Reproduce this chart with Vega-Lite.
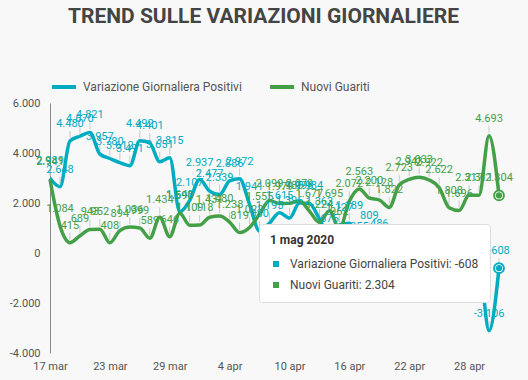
{
  "$schema": "https://vega.github.io/schema/vega-lite/v6.json",
  "width": 449,
  "height": 250,
  "autosize": {"type": "none"},
  "padding": {"left": 50, "top": 103, "right": 29, "bottom": 27},
  "background": "#f8f8f8",
  "title": {
    "text": "TREND SULLE VARIAZIONI GIORNALIERE",
    "anchor": "middle",
    "frame": "group",
    "dx": -11,
    "offset": 46,
    "font": "Roboto",
    "fontSize": 21,
    "fontWeight": "bold",
    "color": "#444444"
  },
  "config": {
    "font": "Roboto",
    "view": {"stroke": null},
    "locale": {
      "number": {"decimal": ",", "thousands": ".", "grouping": [3], "currency": ["€", ""], "minus": "-"},
      "time": {
        "dateTime": "%A %e %B %Y, %X",
        "date": "%d/%m/%Y",
        "time": "%H:%M:%S",
        "periods": ["AM", "PM"],
        "days": ["domenica", "lunedì", "martedì", "mercoledì", "giovedì", "venerdì", "sabato"],
        "shortDays": ["dom", "lun", "mar", "mer", "gio", "ven", "sab"],
        "months": ["gennaio", "febbraio", "marzo", "aprile", "maggio", "giugno", "luglio", "agosto", "settembre", "ottobre", "novembre", "dicembre"],
        "shortMonths": ["gen", "feb", "mar", "apr", "mag", "giu", "lug", "ago", "set", "ott", "nov", "dic"]
      }
    }
  },
  "data": {
    "values": [
      {"date": "2020-03-17", "Variazione Giornaliera Positivi": 2989, "Nuovi Guariti": 2941},
      {"date": "2020-03-18", "Variazione Giornaliera Positivi": 2648, "Nuovi Guariti": 1084},
      {"date": "2020-03-19", "Variazione Giornaliera Positivi": 4480, "Nuovi Guariti": 415},
      {"date": "2020-03-20", "Variazione Giornaliera Positivi": 4670, "Nuovi Guariti": 689},
      {"date": "2020-03-21", "Variazione Giornaliera Positivi": 4821, "Nuovi Guariti": 943},
      {"date": "2020-03-22", "Variazione Giornaliera Positivi": 3957, "Nuovi Guariti": 952},
      {"date": "2020-03-23", "Variazione Giornaliera Positivi": 3780, "Nuovi Guariti": 408},
      {"date": "2020-03-24", "Variazione Giornaliera Positivi": 3612, "Nuovi Guariti": 894},
      {"date": "2020-03-25", "Variazione Giornaliera Positivi": 3491, "Nuovi Guariti": 1036},
      {"date": "2020-03-26", "Variazione Giornaliera Positivi": 4492, "Nuovi Guariti": 999},
      {"date": "2020-03-27", "Variazione Giornaliera Positivi": 4401, "Nuovi Guariti": 589},
      {"date": "2020-03-28", "Variazione Giornaliera Positivi": 3651, "Nuovi Guariti": 1434},
      {"date": "2020-03-29", "Variazione Giornaliera Positivi": 3815, "Nuovi Guariti": 646},
      {"date": "2020-03-30", "Variazione Giornaliera Positivi": 1648, "Nuovi Guariti": 1590},
      {"date": "2020-03-31", "Variazione Giornaliera Positivi": 2107, "Nuovi Guariti": 1109},
      {"date": "2020-04-01", "Variazione Giornaliera Positivi": 2937, "Nuovi Guariti": 1118},
      {"date": "2020-04-02", "Variazione Giornaliera Positivi": 2477, "Nuovi Guariti": 1431},
      {"date": "2020-04-03", "Variazione Giornaliera Positivi": 2339, "Nuovi Guariti": 1480},
      {"date": "2020-04-04", "Variazione Giornaliera Positivi": 2886, "Nuovi Guariti": 1238},
      {"date": "2020-04-05", "Variazione Giornaliera Positivi": 2972, "Nuovi Guariti": 819},
      {"date": "2020-04-06", "Variazione Giornaliera Positivi": 1941, "Nuovi Guariti": 1022},
      {"date": "2020-04-07", "Variazione Giornaliera Positivi": 880, "Nuovi Guariti": 1555},
      {"date": "2020-04-08", "Variazione Giornaliera Positivi": 1195, "Nuovi Guariti": 2099},
      {"date": "2020-04-09", "Variazione Giornaliera Positivi": 1615, "Nuovi Guariti": 1979},
      {"date": "2020-04-10", "Variazione Giornaliera Positivi": 1396, "Nuovi Guariti": 1985},
      {"date": "2020-04-11", "Variazione Giornaliera Positivi": 1996, "Nuovi Guariti": 2079},
      {"date": "2020-04-12", "Variazione Giornaliera Positivi": 1984, "Nuovi Guariti": 1677},
      {"date": "2020-04-13", "Variazione Giornaliera Positivi": 1363, "Nuovi Guariti": 1224},
      {"date": "2020-04-14", "Variazione Giornaliera Positivi": 675, "Nuovi Guariti": 1695},
      {"date": "2020-04-15", "Variazione Giornaliera Positivi": 1127, "Nuovi Guariti": 962},
      {"date": "2020-04-16", "Variazione Giornaliera Positivi": 1189, "Nuovi Guariti": 2072},
      {"date": "2020-04-17", "Variazione Giornaliera Positivi": 355, "Nuovi Guariti": 2563},
      {"date": "2020-04-18", "Variazione Giornaliera Positivi": 809, "Nuovi Guariti": 2200},
      {"date": "2020-04-19", "Variazione Giornaliera Positivi": 486, "Nuovi Guariti": 2128},
      {"date": "2020-04-20", "Variazione Giornaliera Positivi": -20, "Nuovi Guariti": 1822},
      {"date": "2020-04-21", "Variazione Giornaliera Positivi": -528, "Nuovi Guariti": 2723},
      {"date": "2020-04-22", "Variazione Giornaliera Positivi": -10, "Nuovi Guariti": 2943},
      {"date": "2020-04-23", "Variazione Giornaliera Positivi": -851, "Nuovi Guariti": 3033},
      {"date": "2020-04-24", "Variazione Giornaliera Positivi": -321, "Nuovi Guariti": 2922},
      {"date": "2020-04-25", "Variazione Giornaliera Positivi": -680, "Nuovi Guariti": 2622},
      {"date": "2020-04-26", "Variazione Giornaliera Positivi": 256, "Nuovi Guariti": 1808},
      {"date": "2020-04-27", "Variazione Giornaliera Positivi": -290, "Nuovi Guariti": 1696},
      {"date": "2020-04-28", "Variazione Giornaliera Positivi": -608, "Nuovi Guariti": 2317},
      {"date": "2020-04-29", "Variazione Giornaliera Positivi": -548, "Nuovi Guariti": 2311},
      {"date": "2020-04-30", "Variazione Giornaliera Positivi": -3106, "Nuovi Guariti": 4693},
      {"date": "2020-05-01", "Variazione Giornaliera Positivi": -608, "Nuovi Guariti": 2304}
    ]
  },
  "transform": [
    {"fold": ["Variazione Giornaliera Positivi", "Nuovi Guariti"], "as": ["serie", "value"]}
  ],
  "layer": [
    {
      "data": {"values": [{}]},
      "mark": {"type": "rule", "color": "#9e9e9e", "strokeWidth": 1},
      "encoding": {"y": {"datum": 0, "type": "quantitative", "scale": {"domain": [-4000, 6000], "nice": false, "zero": false}}}
    },
    {
      "mark": {"type": "rule", "color": "#c9c9c9", "strokeWidth": 1, "yOffset": -3, "y2Offset": -10},
      "encoding": {
        "x": {"field": "date", "type": "temporal"},
        "y": {"field": "value", "type": "quantitative"},
        "y2": {"field": "value"}
      }
    },
    {
      "mark": {"type": "line", "interpolate": "monotone", "strokeWidth": 3.5},
      "encoding": {
        "x": {"field": "date", "type": "temporal"},
        "y": {"field": "value", "type": "quantitative"},
        "color": {
          "field": "serie",
          "type": "nominal",
          "scale": {"domain": ["Variazione Giornaliera Positivi", "Nuovi Guariti"], "range": ["#00acc1", "#43a047"]},
          "legend": {
            "orient": "none",
            "legendX": 0,
            "legendY": -30,
            "direction": "horizontal",
            "title": null,
            "symbolType": "stroke",
            "symbolSize": 576,
            "symbolStrokeWidth": 4,
            "labelFontSize": 12,
            "labelColor": "#555555",
            "labelFont": "Roboto",
            "columnPadding": 20,
            "labelOffset": 5
          }
        }
      }
    },
    {
      "mark": {"type": "text", "dy": -17, "fontSize": 11, "font": "Roboto", "baseline": "middle"},
      "encoding": {
        "x": {"field": "date", "type": "temporal"},
        "y": {"field": "value", "type": "quantitative"},
        "text": {"field": "value", "type": "quantitative", "format": ",d"},
        "color": {"field": "serie", "type": "nominal", "legend": null}
      }
    },
    {
      "transform": [{"filter": {"field": "date", "equal": {"year": 2020, "month": 5, "date": 1, "utc": true}}}],
      "mark": {"type": "point", "filled": false, "fill": "#ffffff", "fillOpacity": 1, "strokeWidth": 2, "size": 95, "opacity": 1},
      "encoding": {
        "x": {"field": "date", "type": "temporal"},
        "y": {"field": "value", "type": "quantitative"},
        "color": {"field": "serie", "type": "nominal", "legend": null}
      }
    },
    {
      "transform": [
        {"filter": {"field": "date", "equal": {"year": 2020, "month": 5, "date": 1, "utc": true}}},
        {"window": [{"op": "first_value", "field": "serie", "as": "voce"}], "groupby": ["serie"]}
      ],
      "mark": {"type": "circle", "size": 38, "opacity": 1, "fillOpacity": 1},
      "encoding": {
        "x": {"field": "date", "type": "temporal"},
        "y": {"field": "value", "type": "quantitative"},
        "fill": {
          "field": "voce",
          "type": "nominal",
          "sort": "descending",
          "scale": {"range": ["#00acc1", "#43a047"]},
          "legend": {
            "orient": "none",
            "legendX": 209,
            "legendY": 121,
            "direction": "vertical",
            "title": "1 mag 2020",
            "titleFont": "Roboto",
            "titleFontSize": 12,
            "titleFontWeight": "bold",
            "titleColor": "#333333",
            "titlePadding": 11,
            "symbolType": "square",
            "symbolSize": 36,
            "symbolStrokeWidth": 0,
            "labelFont": "Roboto",
            "labelFontSize": 12,
            "labelColor": "#444444",
            "labelOffset": 8,
            "labelLimit": 400,
            "rowPadding": 9,
            "padding": 11,
            "fillColor": "#ffffff",
            "strokeColor": "#dddddd",
            "cornerRadius": 3,
            "labelExpr": "datum.label == 'Nuovi Guariti' ? 'Nuovi Guariti: 2.304' : 'Variazione Giornaliera Positivi: -608    '"
          }
        }
      }
    }
  ],
  "resolve": {"scale": {"y": "shared", "x": "shared", "color": "shared"}},
  "encoding": {
    "x": {
      "field": "date",
      "type": "temporal",
      "scale": {"type": "utc", "nice": false},
      "axis": {
        "title": null,
        "format": "%-d %b",
        "values": [
          {"year": 2020, "month": 3, "date": 17, "utc": true},
          {"year": 2020, "month": 3, "date": 23, "utc": true},
          {"year": 2020, "month": 3, "date": 29, "utc": true},
          {"year": 2020, "month": 4, "date": 4, "utc": true},
          {"year": 2020, "month": 4, "date": 10, "utc": true},
          {"year": 2020, "month": 4, "date": 16, "utc": true},
          {"year": 2020, "month": 4, "date": 22, "utc": true},
          {"year": 2020, "month": 4, "date": 28, "utc": true}
        ],
        "domain": false,
        "ticks": false,
        "grid": false,
        "labelFlush": false,
        "labelOverlap": false,
        "labelFontSize": 11,
        "labelColor": "#555555",
        "labelPadding": 7,
        "labelFont": "Roboto"
      }
    },
    "y": {
      "field": "value",
      "type": "quantitative",
      "scale": {"domain": [-4000, 6000], "nice": false, "zero": false},
      "axis": {
        "title": null,
        "values": [-4000, -2000, 0, 2000, 4000, 6000],
        "format": ",d",
        "domain": true,
        "domainColor": "#8a8a8a",
        "ticks": false,
        "grid": false,
        "labelFontSize": 11,
        "labelColor": "#555555",
        "labelPadding": 10,
        "labelFont": "Roboto"
      }
    }
  }
}
